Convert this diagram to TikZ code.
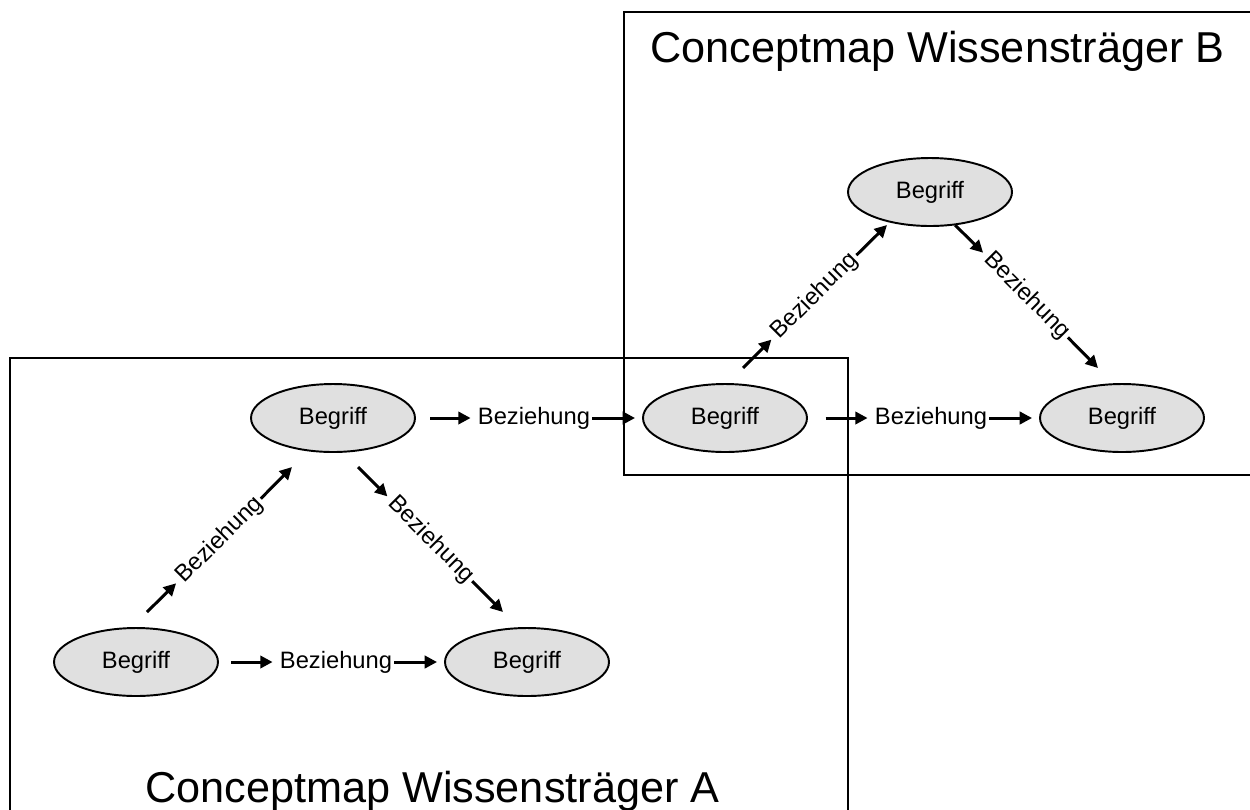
\documentclass[tikz,border=0pt]{standalone}
\usepackage{fontspec}
\setmainfont{Liberation Sans}
\usetikzlibrary{arrows.meta,shapes.geometric}
\definecolor{conceptfill}{HTML}{E0E0E0}
\begin{document}
\begin{tikzpicture}[x=0.02cm,y=-0.02cm,
  frame/.style={draw=black,line width=1.2pt},
  concept/.style={ellipse,draw=black,line width=1.1pt,fill=conceptfill,
    minimum width=3.28cm,minimum height=1.36cm,inner sep=0pt,
    font=\fontsize{13.5}{16}\selectfont},
  rel/.style={inner xsep=1pt,inner ysep=2pt,font=\fontsize{13.5}{16}\selectfont},
  arr/.style={line width=1.7pt,-{Triangle[length=7pt,width=7pt]}},
  title/.style={inner sep=0pt,font=\fontsize{24.6}{30}\selectfont}]
\useasboundingbox (0,0) rectangle (1250,809);

% the two map frames
\draw[frame] (10,815) -- (10,358) -- (848,358) -- (848,815);
\draw[frame] (1256,12) -- (624,12) -- (624,475) -- (1256,475);

\node[title,anchor=base west] (tA) at (145,802) {Conceptmap Wissensträger A};
\node[title,anchor=base west] (tB) at (650,62) {Conceptmap Wissensträger B};

% concepts
\node[concept] (a1) at (333,418) {Begriff};
\node[concept] (a2) at (136,662) {Begriff};
\node[concept] (a3) at (527,662) {Begriff};
\node[concept] (m)  at (725,418) {Begriff};
\node[concept] (b1) at (930,192) {Begriff};
\node[concept] (b2) at (1122,418) {Begriff};

% horizontal relations
\node[rel] (r1) at (534,418) {Beziehung};
\node[rel] (r2) at (336,662) {Beziehung};
\node[rel] (r3) at (931,418) {Beziehung};
\draw[arr,shorten <=8pt,shorten >=3pt] (a1) -- (r1);
\draw[arr,shorten >=4pt] (r1) -- (m);
\draw[arr,shorten <=7pt,shorten >=3pt] (a2) -- (r2);
\draw[arr,shorten >=4pt] (r2) -- (a3);
\draw[arr,shorten <=10pt,shorten >=3pt] (m) -- (r3);
\draw[arr,shorten >=4pt] (r3) -- (b2);

% diagonal relations
\node[rel,rotate=45]  (d1) at (220,540) {Beziehung};
\node[rel,rotate=-45] (d2) at (431,540) {Beziehung};
\node[rel,rotate=45]  (d3) at (815,296) {Beziehung};
\node[rel,rotate=-45] (d4) at (1027,296) {Beziehung};
\coordinate (d1s) at (147,612);
\coordinate (d1e) at (292,467);
\coordinate (d2s) at (358,467);
\coordinate (d2e) at (503,612);
\coordinate (d3s) at (743,368);
\coordinate (d3e) at (887,225);
\coordinate (d4s) at (955,225);
\coordinate (d4e) at (1098,368);
\draw[arr,shorten >=2pt] (d1s) -- (d1);
\draw[arr] (d1) -- (d1e);
\draw[arr,shorten >=2pt] (d2s) -- (d2);
\draw[arr] (d2) -- (d2e);
\draw[arr,shorten >=2pt] (d3s) -- (d3);
\draw[arr] (d3) -- (d3e);
\draw[arr,shorten >=2pt] (d4s) -- (d4);
\draw[arr] (d4) -- (d4e);
\end{tikzpicture}
\end{document}
